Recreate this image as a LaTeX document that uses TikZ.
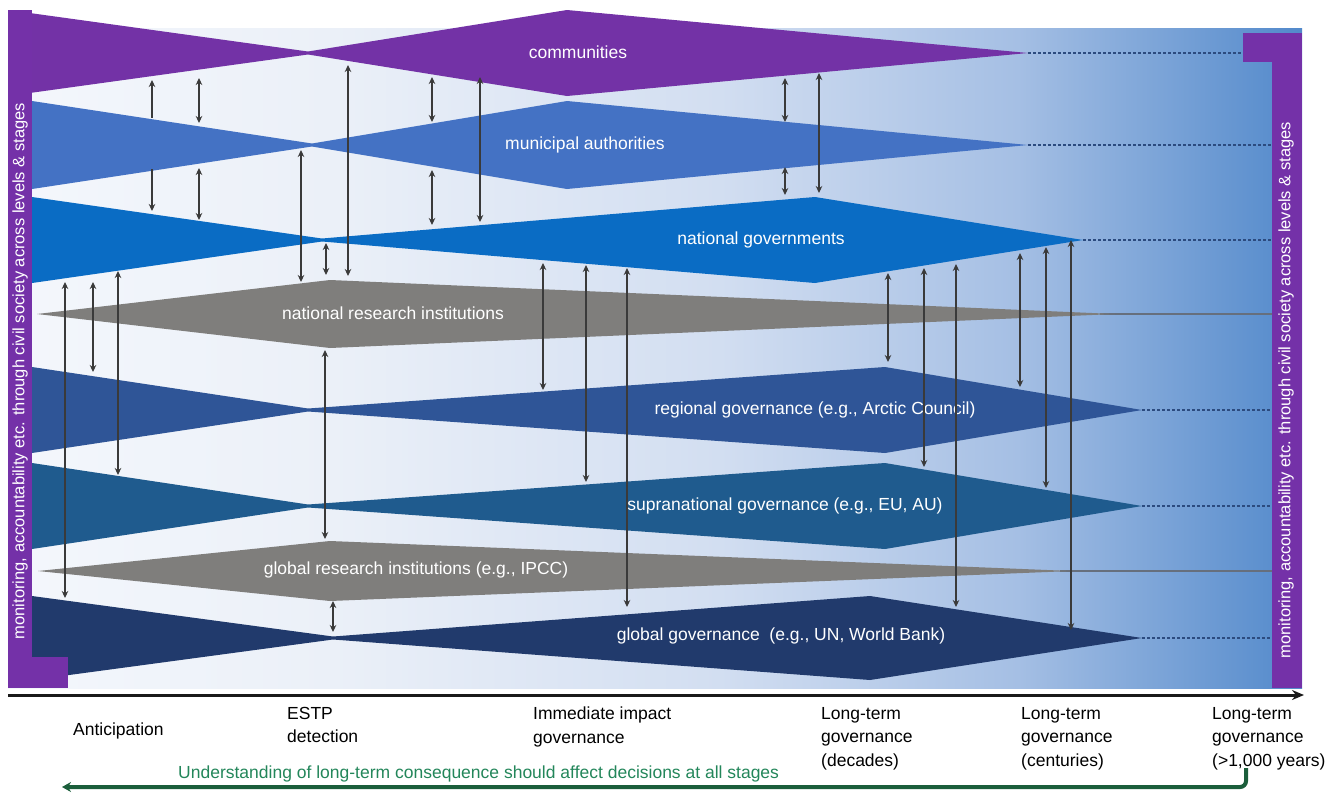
\documentclass[tikz,border=0pt]{standalone}
\usepackage{fontspec}
\setmainfont{Liberation Sans}
\usetikzlibrary{arrows.meta}
\definecolor{purp}{HTML}{7431A8}
\definecolor{commc}{HTML}{7332A6}
\definecolor{munic}{HTML}{4472C4}
\definecolor{natgc}{HTML}{0A6CC4}
\definecolor{grayc}{HTML}{7F7E7C}
\definecolor{regc}{HTML}{2F5597}
\definecolor{supc}{HTML}{1F5B8E}
\definecolor{globc}{HTML}{213A6C}
\definecolor{arrc}{HTML}{3A3A3A}
\definecolor{dashc}{HTML}{2C4B7F}
\definecolor{greentxt}{HTML}{23865A}
\definecolor{greenarr}{HTML}{1B5E3B}
\definecolor{bgA}{HTML}{F4F7FC}
\definecolor{bgB}{HTML}{EBF0F8}
\definecolor{bgC}{HTML}{D2DEF1}
\definecolor{bgD}{HTML}{A5BFE4}
\definecolor{bgE}{HTML}{5289CB}
\pgfdeclarehorizontalshading{bgshade}{100bp}{color(0bp)=(bgA); color(25bp)=(bgA); color(37.5bp)=(bgB); color(52.5bp)=(bgC); color(64bp)=(bgD); color(75bp)=(bgE); color(100bp)=(bgE)}
\newcommand{\bandfont}{\fontsize{17.5pt}{21pt}\selectfont}
\newcommand{\stagefont}{\fontsize{17.5pt}{23.5pt}\selectfont}
\newcommand{\barfont}{\fontsize{16.5pt}{20pt}\selectfont}
\newcommand{\drawband}[7]{%
  \fill[#7] (#3,#1-#2) -- (#4,#1-1.5) -- (#4,#1+1.5) -- (#3,#1+#2) -- cycle;
  \fill[#7] (#4,#1-1.5) -- (#5,#1-#2) -- (#6,#1) -- (#5,#1+#2) -- (#4,#1+1.5) -- cycle;
}
\begin{document}
\begin{tikzpicture}[x=1pt,y=-1pt,
  bandlabel/.style={text=white, font=\bandfont, inner sep=0pt},
  stagelabel/.style={anchor=north west, align=left, font=\stagefont, inner sep=0pt, text=black},
  biarrow/.style={draw=arrc, line width=1.3pt, {Stealth[length=7pt,width=6.5pt]}-{Stealth[length=7pt,width=6.5pt]}},
  onearrow/.style={draw=arrc, line width=1.3pt, -{Stealth[length=7pt,width=6.5pt]}},
  dashline/.style={draw=dashc, line width=1.2pt, dash pattern=on 3pt off 2pt},
  greyline/.style={draw=grayc!70!dashc, line width=1.2pt},
  bartext/.style={rotate=90, text=white, font=\barfont, inner sep=0pt}]
\useasboundingbox (0,0) rectangle (1335,793);
% background panel
\fill[shading=bgshade] (8,28) rectangle (1302,688);
% dashed continuation lines
\draw[dashline] (1028,53) -- (1243,53);
\draw[dashline] (1028,145) -- (1272,145);
\draw[dashline] (1083,240) -- (1272,240);
\draw[greyline] (1100,314) -- (1272,314);
\draw[dashline] (1142,410) -- (1272,410);
\draw[dashline] (1142,506) -- (1272,506);
\draw[greyline] (1060,571) -- (1272,571);
\draw[dashline] (1142,638) -- (1272,638);
% bands
\drawband{53}{43}{8}{308}{567}{1028}{commc}
\drawband{145}{44}{32}{312}{567}{1028}{munic}
\drawband{240}{43}{32}{322}{815}{1083}{natgc}
\fill[grayc] (37,314) -- (330,280) -- (1115,314) -- (330,348) -- cycle;
\drawband{410}{43}{32}{308}{885}{1142}{regc}
\drawband{506}{43}{32}{308}{885}{1142}{supc}
\fill[grayc] (38,571) -- (330,541) -- (1072,571) -- (330,601) -- cycle;
\drawband{638}{42}{32}{333}{870}{1142}{globc}
% band labels
\node[bandlabel] (comm) at (578,52) {communities};
\node[bandlabel] (muni) at (585,145) {municipal authorities};
\node[bandlabel] (natg) at (761,240) {national governments};
\node[bandlabel] (natr) at (393,313) {national research institutions};
\node[bandlabel] (regg) at (815,410) {regional governance (e.g., Arctic Council)};
\node[bandlabel] (supg) at (785,506) {supranational governance (e.g., EU, AU)};
\node[bandlabel] (glor) at (416,570) {global research institutions (e.g., IPCC)};
\node[bandlabel] (glog) at (781,636) {global governance~ (e.g., UN, World Bank)};
% vertical arrows
\foreach \x/\a/\b in {199/78/123, 199/168/220, 301/150/282, 326/243/275, 348/65/276,
  432/77/122, 432/170/225, 480/77/222, 785/78/122, 785/167/195, 819/73/193,
  65/282/598, 93/282/372, 118/271/475, 325/350/539, 333/601/632,
  543/263/390, 586/265/482, 627/268/607, 888/273/362, 924/268/467, 956/264/607,
  1020/253/387, 1046/247/488, 1071/240/630}
  \draw[biarrow] (\x,\a) -- (\x,\b);
\draw[onearrow] (152,118) -- (152,80);
\draw[onearrow] (152,169) -- (152,211);
% side bars
\fill[purp] (8,10) rectangle (32,688);
\fill[purp] (8,657) rectangle (68,688);
\fill[purp] (1272,33) rectangle (1302,688);
\fill[purp] (1243,33) rectangle (1302,62);
\node[bartext] (lbar) at (20,371) {monitoring, accountability etc. through civil society across levels \& stages};
\node[bartext] (rbar) at (1286,390) {monitoring, accountability etc. through civil society across levels \& stages};
% time axis
\coordinate (axL) at (8,695);
\coordinate (axR) at (1304,695);
\draw[line width=3pt, draw=black!90, -{Stealth[length=12pt,width=10pt]}] (axL) -- (axR);
% stage labels
\node[stagelabel] (s1) at (73,723) {Anticipation};
\node[stagelabel] (s2) at (287,707) {ESTP\\detection};
\node[stagelabel] (s3) at (533,707) {Immediate impact\\governance};
\node[stagelabel] (s4) at (821,707) {Long-term\\governance\\(decades)};
\node[stagelabel] (s5) at (1021,707) {Long-term\\governance\\(centuries)};
\node[stagelabel] (s6) at (1212,707) {Long-term\\governance\\(>1,000 years)};
% green feedback
\node[anchor=north west, inner sep=0pt, font=\stagefont, text=greentxt] (gtxt) at (178,766) {Understanding of long-term consequence should affect decisions at all stages};
\coordinate (gS) at (1246,768);
\coordinate (gE) at (62,787);
\draw[draw=greenarr, line width=4pt, rounded corners=6pt, -{Stealth[length=9pt,width=10pt]}] (gS) |- (gE);
\end{tikzpicture}
\end{document}
